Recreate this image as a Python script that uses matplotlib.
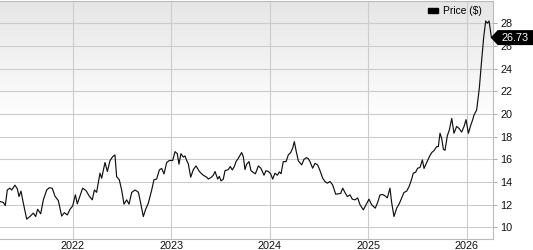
import numpy as np
import matplotlib
matplotlib.use("Agg")
import matplotlib.pyplot as plt
from matplotlib.patches import Patch, Polygon
from matplotlib.transforms import IdentityTransform

plt.rcParams['font.family'] = ['Liberation Sans', 'DejaVu Sans']

# decimal-year dates and weekly-ish closing prices
dates = [
    2021.262, 2021.296, 2021.316, 2021.336, 2021.363, 2021.380, 2021.414, 2021.438, 2021.455, 2021.475,
    2021.499, 2021.533, 2021.566, 2021.600, 2021.624, 2021.644, 2021.675, 2021.702, 2021.736, 2021.763,
    2021.793, 2021.820, 2021.854, 2021.888, 2021.915, 2021.945, 2021.973, 2022.000, 2022.027, 2022.047,
    2022.067, 2022.101, 2022.135, 2022.169, 2022.199, 2022.220, 2022.243, 2022.277, 2022.294, 2022.328,
    2022.352, 2022.379, 2022.406, 2022.429, 2022.446, 2022.473, 2022.497, 2022.521, 2022.548, 2022.572,
    2022.599, 2022.633, 2022.667, 2022.690, 2022.717, 2022.741, 2022.768, 2022.802, 2022.825, 2022.852,
    2022.880, 2022.903, 2022.927, 2022.954, 2022.981, 2023.015, 2023.039, 2023.062, 2023.079, 2023.099,
    2023.123, 2023.140, 2023.157, 2023.174, 2023.198, 2023.225, 2023.252, 2023.286, 2023.303, 2023.326,
    2023.360, 2023.377, 2023.404, 2023.428, 2023.445, 2023.472, 2023.489, 2023.506, 2023.529, 2023.546,
    2023.580, 2023.600, 2023.621, 2023.641, 2023.658, 2023.682, 2023.715, 2023.732, 2023.749, 2023.765,
    2023.790, 2023.810, 2023.844, 2023.855, 2023.885, 2023.912, 2023.942, 2023.962, 2023.986, 2024.010,
    2024.030, 2024.054, 2024.078, 2024.098, 2024.115, 2024.138, 2024.166, 2024.189, 2024.213, 2024.233,
    2024.250, 2024.267, 2024.291, 2024.325, 2024.348, 2024.375, 2024.392, 2024.409, 2024.436, 2024.460,
    2024.487, 2024.511, 2024.538, 2024.561, 2024.585, 2024.612, 2024.639, 2024.670, 2024.697, 2024.721,
    2024.741, 2024.764, 2024.788, 2024.815, 2024.839, 2024.866, 2024.893, 2024.917, 2024.951, 2024.978,
    2025.008, 2025.035, 2025.072, 2025.096, 2025.120, 2025.147, 2025.171, 2025.194, 2025.221, 2025.238,
    2025.262, 2025.289, 2025.316, 2025.340, 2025.363, 2025.391, 2025.418, 2025.441, 2025.458, 2025.482,
    2025.502, 2025.526, 2025.550, 2025.567, 2025.594, 2025.621, 2025.645, 2025.668, 2025.695, 2025.712,
    2025.729, 2025.746, 2025.763, 2025.780, 2025.803, 2025.824, 2025.848, 2025.871, 2025.898, 2025.925,
    2025.949, 2025.973, 2025.993, 2026.017, 2026.041, 2026.061, 2026.074, 2026.101, 2026.128, 2026.152,
    2026.173, 2026.193, 2026.210, 2026.227, 2026.251,
]
prices = [
    12.28, 12.20, 11.93, 13.30, 13.46, 13.30, 13.72, 13.40, 12.72, 13.20,
    12.14, 10.73, 10.96, 11.26, 10.96, 11.60, 11.20, 12.43, 13.30, 13.50,
    13.45, 12.75, 12.37, 11.00, 11.30, 11.10, 11.60, 11.90, 12.87, 12.08,
    12.60, 13.46, 13.25, 12.75, 12.43, 13.30, 13.10, 14.78, 14.34, 15.72,
    14.93, 15.89, 16.24, 16.39, 14.48, 14.20, 13.30, 12.05, 12.43, 12.05,
    13.08, 13.30, 13.10, 12.14, 10.96, 11.60, 12.14, 13.30, 14.20, 14.26,
    15.07, 15.20, 14.72, 15.72, 15.90, 15.90, 16.68, 16.50, 15.57, 16.50,
    16.20, 16.30, 15.90, 15.60, 14.43, 15.10, 15.42, 14.93, 14.78, 14.60,
    14.43, 14.26, 14.40, 14.60, 14.93, 14.26, 14.50, 14.10, 14.26, 15.00,
    15.10, 15.37, 15.07, 15.37, 15.80, 16.10, 16.60, 16.24, 15.10, 15.56,
    15.80, 15.00, 14.78, 14.73, 15.42, 15.20, 14.60, 15.00, 14.93, 14.73,
    14.26, 14.78, 14.60, 14.90, 14.73, 15.80, 15.80, 16.39, 16.60, 16.98,
    17.56, 16.80, 15.86, 15.51, 16.00, 16.15, 16.06, 15.80, 15.22, 15.65,
    15.51, 15.00, 14.34, 14.05, 13.90, 14.05, 13.75, 12.93, 12.96, 13.00,
    13.46, 13.08, 12.72, 12.87, 12.49, 12.43, 12.60, 12.00, 11.55, 12.00,
    12.49, 12.00, 11.70, 12.20, 12.87, 12.90, 12.78, 12.60, 13.46, 12.20,
    10.96, 11.70, 12.10, 12.60, 13.08, 13.20, 13.66, 14.25, 14.78, 14.87,
    15.22, 15.28, 15.95, 15.20, 15.72, 16.24, 16.60, 16.77, 17.12, 17.12,
    18.30, 17.85, 16.89, 16.80, 18.06, 18.60, 19.60, 18.30, 18.90, 18.70,
    18.40, 18.90, 19.50, 18.30, 19.00, 19.50, 19.90, 20.35, 22.26, 24.75,
    26.80, 28.20, 28.00, 28.20, 26.73,
]
year_ticks = [2022, 2023, 2024, 2025, 2026]
year_labels = ["2022", "2023", "2024", "2025", "2026"]
price_ticks = [10, 12, 14, 16, 18, 20, 22, 24, 26, 28]
last_price = 26.73
series_label = "Price ($)"

DPI = 100
fig = plt.figure(figsize=(5.33, 2.5), dpi=DPI)
ax = fig.add_axes([0.0, 0.044, 492.7 / 533, 0.954])

ax.set_xlim(2021.262, 2026.264)
ax.set_ylim(8.98, 30.0)

# background gradient (grey at top fading to white by the middle)
top_frac = np.linspace(1, 0, 256)  # 1 at top row
shade = np.where(top_frac > 0.5, 1.0 - (top_frac - 0.5) / 0.5 * 0.10, 1.0)
rgb = np.dstack([shade, shade, shade]).reshape(256, 1, 3)
ax.imshow(rgb, extent=[0, 1, 0, 1], transform=ax.transAxes, aspect='auto', zorder=0)

ax.plot(dates, prices, color='#111111', lw=0.85, zorder=3)

ax.set_xticks(year_ticks)
ax.set_xticklabels(year_labels)
ax.set_yticks(price_ticks)
ax.yaxis.tick_right()
ax.grid(True, color='#cccccc', lw=0.8, zorder=1)
ax.set_axisbelow(True)
ax.tick_params(axis='x', length=0, pad=1.2, labelsize=7.8, colors='#111111')
ax.tick_params(axis='y', length=3, width=0.7, color='#aaaaaa', pad=2.5,
               labelsize=7.8, labelcolor='#111111')
for s in ['left']:
    ax.spines[s].set_visible(False)
for s in ['right', 'bottom', 'top']:
    ax.spines[s].set_color('#bbbbbb')
    ax.spines[s].set_linewidth(0.8)

leg = ax.legend(handles=[Patch(facecolor='black', edgecolor='black', label=series_label)],
                loc='upper right', bbox_to_anchor=(482 / 492.7, 1 - 5.5 / 238.5),
                frameon=False, fontsize=7.4, borderpad=0, borderaxespad=0,
                handlelength=1.0, handleheight=0.4, handletextpad=0.5)

# last price tag
fig.canvas.draw()
px, py = ax.get_yaxis_transform().transform((1.0, last_price))
h = 7.5
verts = [(px - 2, py), (px + 5, py + h), (px + 60, py + h), (px + 60, py - h), (px + 5, py - h)]
tag = Polygon(verts, closed=True, transform=IdentityTransform(), facecolor='black',
              edgecolor='none', zorder=10, clip_on=False)
fig.patches.append(tag)
fig.text((px + 9) / fig.bbox.width, py / fig.bbox.height, f"{last_price:.2f}",
         color='white', fontsize=7.8, ha='left', va='center', zorder=11)

fig.savefig('out.png', dpi=DPI)
